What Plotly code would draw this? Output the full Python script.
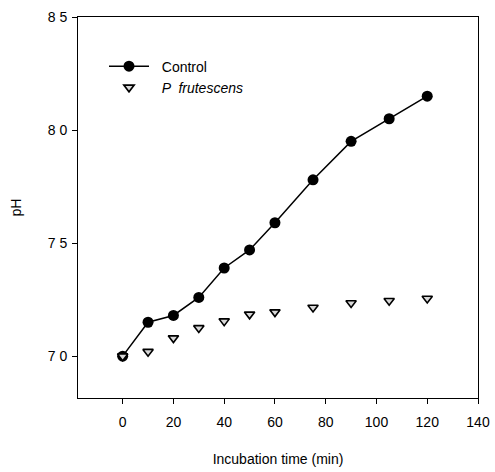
import plotly.graph_objects as go

time_control = [0, 10, 20, 30, 40, 50, 60, 75, 90, 105, 120]
ph_control = [7.0, 7.15, 7.18, 7.26, 7.39, 7.47, 7.59, 7.78, 7.95, 8.05, 8.15]

time_pf = [0, 10, 20, 30, 40, 50, 60, 75, 90, 105, 120]
ph_pf = [7.0, 7.02, 7.08, 7.125, 7.155, 7.185, 7.195, 7.215, 7.235, 7.245, 7.255]

x_ticks = [0, 20, 40, 60, 80, 100, 120, 140]
y_ticks = [7.0, 7.5, 8.0, 8.5]
y_ticktext = ["7 0", "7 5", "8 0", "8 5"]

font = "Liberation Sans, Arial, sans-serif"

fig = go.Figure()
fig.add_trace(go.Scatter(
    x=time_control, y=ph_control, mode="lines+markers", name="&nbsp;&nbsp;Control",
    line=dict(color="black", width=1.5),
    marker=dict(symbol="circle", size=11, color="black"),
))
fig.add_trace(go.Scatter(
    x=time_pf, y=ph_pf, mode="markers", name="&nbsp;&nbsp;<i>P  frutescens</i>",
    marker=dict(symbol="triangle-down", size=9, color="#d8d8d8",
                line=dict(color="black", width=1.6)),
))

fig.update_layout(
    width=495, height=472,
    margin=dict(l=78, r=17, t=17, b=74),
    paper_bgcolor="white", plot_bgcolor="white",
    font=dict(family=font, size=14, color="black"),
    showlegend=True,
    legend=dict(x=0.065, y=0.912, xanchor="left", yanchor="top",
                bgcolor="rgba(0,0,0,0)", font=dict(size=14),
                itemwidth=40, tracegroupgap=2),
    xaxis=dict(
        range=[-17.6, 140], tickvals=x_ticks, showgrid=False, zeroline=False,
        showline=True, linecolor="black", linewidth=1, mirror=True,
        ticks="outside", ticklen=5, tickcolor="black", ticklabelstandoff=6,
        title=dict(text="Incubation time (min)", font=dict(size=14), standoff=25),
        tickfont=dict(size=14), automargin=False,
    ),
    yaxis=dict(
        range=[6.815, 8.5], tickvals=y_ticks, ticktext=y_ticktext,
        showgrid=False, zeroline=False,
        showline=True, linecolor="black", linewidth=1, mirror=True,
        ticks="outside", ticklen=5, tickcolor="black", ticklabelstandoff=2,
        title=dict(text="pH", font=dict(size=14), standoff=22),
        tickfont=dict(size=14), automargin=False,
    ),
)

fig.write_html("out.html")
